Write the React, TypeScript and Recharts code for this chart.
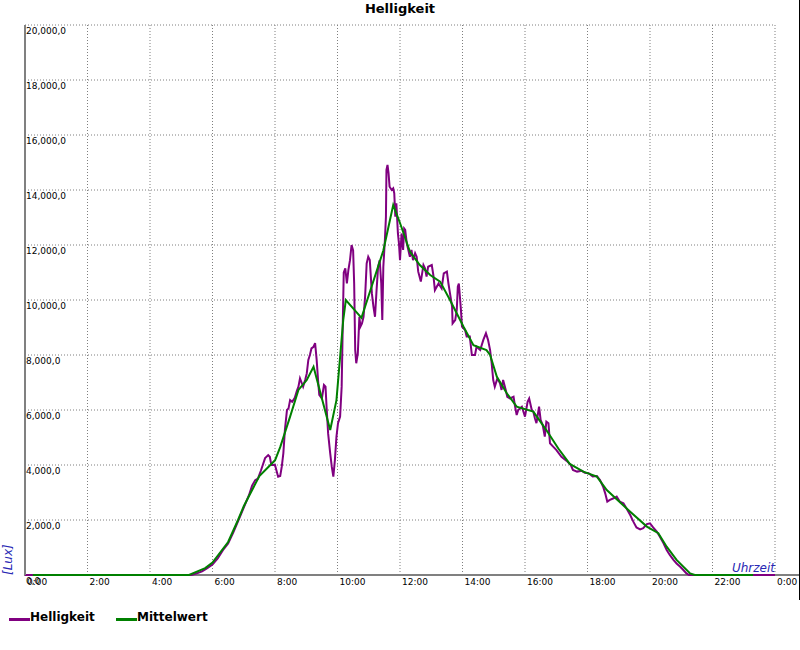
import {
  CartesianGrid,
  Label,
  Line,
  LineChart,
  ReferenceLine,
  XAxis,
  YAxis,
} from "recharts";

// Helligkeit (Messwerte), Uhrzeit -> Lux
const hellZeit = [
  "0:00", "5:20", "5:30", "5:40", "5:50", "6:00", "6:10", "6:20", "6:30", "6:40",
  "6:50", "7:00", "7:10", "7:16", "7:22", "7:27", "7:33", "7:41", "7:47", "7:50",
  "7:53", "8:00", "8:06", "8:10", "8:13", "8:16", "8:19", "8:23", "8:26", "8:29",
  "8:33", "8:38", "8:42", "8:45", "8:48", "8:51", "8:54", "8:58", "9:01", "9:04",
  "9:07", "9:10", "9:14", "9:17", "9:20", "9:23", "9:25", "9:30", "9:34", "9:37",
  "9:39", "9:42", "9:46", "9:49", "9:52", "9:55", "9:58", "10:01", "10:05", "10:08",
  "10:10", "10:12", "10:15", "10:18", "10:21", "10:24", "10:27", "10:30", "10:32", "10:34",
  "10:36", "10:39", "10:42", "10:44", "10:47", "10:50", "10:53", "10:56", "10:59", "11:02",
  "11:06", "11:09", "11:12", "11:15", "11:18", "11:21", "11:24", "11:26", "11:28", "11:31",
  "11:33", "11:34", "11:36", "11:38", "11:40", "11:44", "11:47", "11:49", "11:51", "11:53",
  "11:56", "11:58", "12:00", "12:03", "12:06", "12:08", "12:10", "12:13", "12:16", "12:19",
  "12:22", "12:25", "12:29", "12:32", "12:35", "12:40", "12:45", "12:48", "12:51", "12:54",
  "13:01", "13:04", "13:07", "13:14", "13:20", "13:24", "13:30", "13:33", "13:36", "13:40",
  "13:41", "13:46", "13:49", "13:51", "13:53", "13:55", "13:57", "13:59", "14:05", "14:08",
  "14:14", "14:18", "14:24", "14:27", "14:34", "14:40", "14:45", "14:49", "14:53", "14:56",
  "14:59", "15:02", "15:07", "15:12", "15:15", "15:18", "15:23", "15:26", "15:31", "15:38",
  "15:41", "15:44", "15:47", "15:54", "16:00", "16:05", "16:08", "16:13", "16:16", "16:19",
  "16:22", "16:26", "16:27", "16:30", "16:34", "16:38", "16:41", "16:45", "16:48", "16:54",
  "17:00", "17:10", "17:20", "17:28", "17:32", "17:40", "17:49", "17:55", "18:02", "18:10",
  "18:18", "18:24", "18:30", "18:34", "18:38", "18:43", "18:50", "18:56", "19:02", "19:09",
  "19:15", "19:22", "19:28", "19:34", "19:41", "19:47", "19:54", "20:00", "20:06", "20:13",
  "20:19", "20:26", "20:32", "20:38", "20:45", "20:51", "20:58", "21:04", "21:10", "21:15",
  "24:00",
];
const hellWert = [
  0, 0, 60, 130, 250, 380, 600, 900, 1150, 1550,
  2000, 2450, 2900, 3250, 3450, 3500, 3800, 4250, 4360, 4300,
  4000, 4000, 3575, 3600, 3940, 4420, 5270, 6000, 6060, 6360,
  6300, 6440, 6700, 6850, 7150, 7000, 6850, 7100, 7330, 7820,
  8000, 8240, 8300, 8430, 7820, 7000, 6550, 6420, 6910, 6850,
  6120, 5150, 4420, 3940, 3580, 4180, 5030, 5520, 5760, 6850,
  9000, 11000, 11150, 10600, 11100, 11450, 12000, 11800, 10600, 8180,
  7700, 8060, 9390, 9030, 9150, 9390, 10120, 11330, 11570, 11450,
  10240, 9760, 9390, 10360, 11210, 11450, 10600, 9270, 11210, 12180,
  13030, 14730, 14910, 14610, 14120, 14000, 14060, 13880, 13030, 13520,
  12420, 12060, 11450, 12420, 11820, 12600, 12550, 12060, 11820, 11570,
  11820, 11450, 11700, 11570, 11030, 10670, 11270, 11150, 10850, 11210,
  11270, 10910, 10360, 10600, 10420, 10970, 11030, 10600, 10240, 9760,
  9150, 9270, 9640, 10480, 10600, 10120, 9640, 9030, 8910, 8670,
  8670, 8000, 8000, 8300, 8180, 8550, 8790, 8550, 8180, 7700,
  7090, 6850, 7150, 6970, 6730, 7090, 6730, 6480, 6420, 6480,
  6120, 5820, 6000, 6120, 5760, 6300, 6420, 6000, 5940, 5700,
  5520, 6000, 6120, 5640, 5450, 5030, 5580, 5520, 4790, 4670,
  4550, 4300, 4150, 4000, 3820, 3760, 3790, 3720, 3700, 3580,
  3600, 3450, 3210, 2970, 2670, 2730, 2790, 2850, 2670, 2610,
  2420, 2180, 1940, 1730, 1660, 1700, 1850, 1880, 1730, 1580,
  1390, 1150, 910, 730, 550, 420, 300, 180, 60, 0,
  0,
];

// Mittelwert
const mittelZeit = [
  "0:15", "5:15", "5:46", "6:00", "6:30", "6:49", "7:00", "7:30", "8:00", "8:10",
  "8:29", "8:45", "9:01", "9:14", "9:46", "9:58", "10:11", "10:16", "10:46", "11:28",
  "11:47", "12:00", "12:19", "12:38", "12:58", "13:17", "13:36", "14:02", "14:21", "14:46",
  "14:53", "15:06", "15:25", "15:44", "16:16", "16:41", "17:04", "17:26", "17:52", "18:18",
  "18:37", "19:22", "19:54", "20:16", "20:32", "20:51", "21:17", "21:26", "23:18",
];
const mittelWert = [
  0, 0, 250, 450, 1200, 2000, 2500, 3600, 4170, 4650,
  5760, 6730, 7090, 7570, 5270, 6360, 9270, 10000, 9350, 11800,
  13450, 12800, 11760, 11270, 10910, 10670, 10000, 9030, 8360, 8180,
  8000, 7210, 6610, 6120, 5940, 5270, 4600, 4040, 3760, 3580,
  3090, 2300, 1760, 1520, 1030, 550, 60, 0, 0,
];

const xTicks = [0, 120, 240, 360, 480, 600, 720, 840, 960, 1080, 1200, 1320, 1440];
const yTicks = [0, 2000, 4000, 6000, 8000, 10000, 12000, 14000, 16000, 18000, 20000];

const series = [
  { name: "Helligkeit", color: "#800080" },
  { name: "Mittelwert", color: "#008000" },
];

const toMin = (s: string) => {
  const [h, m] = s.split(":").map(Number);
  return h * 60 + m;
};

const hellData = hellZeit.map((z, i) => ({ t: toMin(z), wert: hellWert[i] }));
const mittelData = mittelZeit.map((z, i) => ({ t: toMin(z), wert: mittelWert[i] }));

const FONT = "'DejaVu Sans', Verdana, sans-serif";
const BLUE = "#2828b4";

function XTick({ x, y, payload }: any) {
  const h = Math.round(payload.value / 60) % 24;
  return (
    <text x={x + 2} y={y + 9.5} fontSize={9} fontFamily={FONT} fill="#000">
      {`${h}:00`}
    </text>
  );
}

function YTick({ x, y, payload }: any) {
  const label = payload.value.toLocaleString("en-US") + ",0";
  return (
    <text x={x + 1} y={y + 8.5} fontSize={9} fontFamily={FONT} fill="#000">
      {label}
    </text>
  );
}

function LegendBox() {
  const starts = [9, 116];
  return (
    <svg width={300} height={30} style={{ position: "absolute", left: 0, top: 600 }}>
      {series.map((s, i) => (
        <g key={s.name}>
          <line x1={starts[i]} x2={starts[i] + 21} y1={19.5} y2={19.5} stroke={s.color} strokeWidth={3} />
          <text x={starts[i] + 21} y={20.5} fontSize={12} fontWeight="bold" fontFamily={FONT} fill="#000">
            {s.name}
          </text>
        </g>
      ))}
    </svg>
  );
}

export default function App() {
  return (
    <div style={{ position: "absolute", left: 0, top: 0, width: 800, height: 650, background: "#fff" }}>
      <div
        style={{
          position: "absolute",
          left: 0,
          top: 1,
          width: 800,
          textAlign: "center",
          fontFamily: FONT,
          fontWeight: "bold",
          fontSize: 13,
          lineHeight: "15px",
          color: "#000",
        }}
      >
        Helligkeit
      </div>
      <LineChart
        width={800}
        height={650}
        margin={{ top: 25, right: 25, bottom: 74, left: 24 }}
      >
        <CartesianGrid stroke="#7f7f7f" strokeDasharray="1 2" />
        <XAxis
          type="number"
          dataKey="t"
          domain={[0, 1440]}
          ticks={xTicks}
          interval={0}
          height={1}
          axisLine={false}
          tickLine={false}
          tickSize={0}
          tickMargin={0}
          tick={<XTick />}
        >
          <Label
            content={() => (
              <text x={775} y={572} textAnchor="end" fontSize={12} fontStyle="italic" fontFamily={FONT} fill={BLUE}>
                Uhrzeit
              </text>
            )}
          />
        </XAxis>
        <YAxis
          type="number"
          domain={[0, 20000]}
          ticks={yTicks}
          interval={0}
          width={1}
          axisLine={{ stroke: "#808080", strokeWidth: 2 }}
          tickLine={false}
          tickSize={0}
          tickMargin={0}
          tick={<YTick />}
        >
          <Label
            content={() => (
              <text
                transform="translate(12,575) rotate(-90)"
                fontSize={12}
                fontStyle="italic"
                fontFamily={FONT}
                fill={BLUE}
              >
                [Lux]
              </text>
            )}
          />
        </YAxis>
        <ReferenceLine
          segment={[
            { x: -2, y: 0 },
            { x: 1488, y: 0 },
          ]}
          ifOverflow="visible"
          stroke="#808080"
          strokeWidth={2}
        />
        <Line
          data={hellData}
          dataKey="wert"
          name={series[0].name}
          type="linear"
          stroke={series[0].color}
          strokeWidth={2}
          dot={false}
          activeDot={false}
          isAnimationActive={false}
        />
        <Line
          data={mittelData}
          dataKey="wert"
          name={series[1].name}
          type="linear"
          stroke={series[1].color}
          strokeWidth={2}
          dot={false}
          activeDot={false}
          isAnimationActive={false}
        />
      </LineChart>
      <LegendBox />
      <div style={{ position: "absolute", left: 799, top: 0, width: 1, height: 600, background: "#000" }} />
    </div>
  );
}
